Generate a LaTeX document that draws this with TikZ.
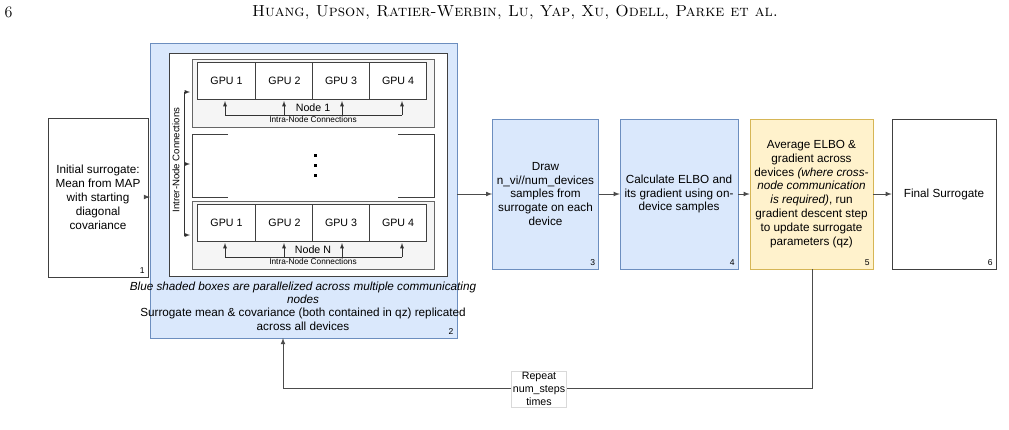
\documentclass[tikz,border=0pt]{standalone}
\usepackage{fontspec}
\setsansfont{Liberation Sans}
\usetikzlibrary{positioning}
\definecolor{blueFill}{HTML}{DAE8FC}
\definecolor{blueLine}{HTML}{6C8EBF}
\definecolor{yellowFill}{HTML}{FFF2CC}
\definecolor{yellowLine}{HTML}{D6B656}
\definecolor{grayFill}{HTML}{F5F5F5}
\tikzset{
    stepbox/.style={draw=black!75,fill=white,minimum width=100*0.75pt,align=center,
        font=\sffamily\fontsize{8.8}{10.4}\selectfont},
    bluestep/.style={stepbox,draw=blueLine,fill=blueFill},
    gpu/.style={draw=black!75,fill=white,minimum width=57.5*0.75pt,minimum height=37*0.75pt,
        inner sep=0pt,font=\sffamily\fontsize{8}{9.5}\selectfont},
    tiny/.style={font=\sffamily\fontsize{6.2}{7}\selectfont,inner sep=0.5pt},
    num/.style={font=\sffamily\fontsize{6.4}{7}\selectfont,anchor=south east,inner sep=2.5pt},
    flow/.style={draw=black!70,->,>=latex,line width=0.6pt},
}
\begin{document}
\begin{tikzpicture}[x=0.75pt,y=-0.75pt]
    \useasboundingbox (0,0) rectangle (1009,429);

    % page header
    \node[anchor=west,font=\fontsize{12}{14}\selectfont] (pg) at (0,12) {6};
    \node[font=\fontsize{12}{14}\selectfont\scshape] (hdr) at (515,12)
        {Huang, Upson, Ratier-Werbin, Lu, Yap, Xu, Odell, Parke et al.};

    % blue outer box 2
    \draw[draw=blueLine,fill=blueFill] (150,43) rectangle (457,338);
    \coordinate (b2w) at (150,197);
    \coordinate (b2s) at (283,338);
    \node[num] at (457,338) {2};
    \draw[draw=black!75,fill=white] (169,53) rectangle (447,276);

    % the two GPU nodes
    \foreach \name/\top/\lbl in {a/59/Node 1, n/201/Node N} {
        \draw[draw=black!60,fill=grayFill] (192,\top) rectangle (434,\top+68);
        \foreach \i/\cx in {1/226.5,2/284.5,3/341,4/398} {
            \node[gpu] (\name\i) at (\cx,\top+22) {GPU \i};
        }
        \node[tiny,font=\sffamily\fontsize{8}{9.5}\selectfont,fill=grayFill] (\name lab) at (313,\top+49) {\lbl};
        \node[tiny,fill=grayFill] (\name con) at (313,\top+60.5) {Intra-Node Connections};
        \draw[black!80] (225,\top+56) -- (402,\top+56);
        \foreach \i/\cx in {1/225,2/284,3/342,4/402} {
            \draw[->,>=latex,black!80] (\cx,\top+56) -- (\cx,\top+42);
        }
    }

    % middle placeholder
    \draw[black!75] (228,134) -- (192,134) -- (192,197) -- (228,197);
    \draw[black!75] (398,134) -- (434,134) -- (434,197) -- (398,197);
    \foreach \y in {155,165,175} {
        \fill (313.5,\y-1.5) rectangle (316.5,\y+1.5);
    }

    % inter-node connections
    \draw[black!80] (184,92) -- (184,235);
    \foreach \y in {92,164,235} {
        \draw[->,>=latex,black!80] (184,\y) -- (190,\y);
    }
    \node[tiny,font=\sffamily\fontsize{7.2}{8}\selectfont,rotate=90,fill=white] (inter) at (176,160) {Intrer-Node Connections};

    \node[font=\sffamily\fontsize{8.8}{10}\selectfont,align=center] (note) at (303,306)
        {\itshape Blue shaded boxes are parallelized across multiple communicating\\ \itshape nodes\\
         Surrogate mean \& covariance (both contained in qz) replicated\\ across all devices};

    % process steps
    \node[stepbox,minimum height=159*0.75pt] (s1) at (98,197.5)
        {Initial surrogate:\\Mean from MAP\\with starting\\diagonal\\covariance};
    \node[bluestep,minimum width=105*0.75pt,minimum height=150*0.75pt] (s3) at (545.5,194)
        {Draw\\n\_vi//num\_devices\\samples from\\surrogate on each\\device};
    \node[bluestep,minimum width=104*0.75pt,minimum height=150*0.75pt] (s4) at (679,194)
        {Calculate ELBO and\\its gradient using on-\\device samples};
    \node[stepbox,draw=yellowLine,fill=yellowFill,minimum width=103*0.75pt,minimum height=150*0.75pt] (s5) at (811.5,194)
        {Average ELBO \&\\gradient across\\devices \textit{(where cross-}\\\textit{node communication}\\\textit{is required)}, run\\gradient descent step\\to update surrogate\\parameters (qz)};
    \node[stepbox,minimum width=104*0.75pt,minimum height=150*0.75pt] (s6) at (944,194) {Final Surrogate};
    \foreach \s/\n in {s1/1,s3/3,s4/4,s5/5,s6/6} {
        \node[num] at (\s.south east) {\n};
    }

    % connectors
    \draw[flow] (s1.east |- b2w) -- (b2w);
    \draw[flow] (457,194) -- (s3.west);
    \draw[flow] (s3) -- (s4);
    \draw[flow] (s4) -- (s5);
    \draw[flow] (s5) -- (s6);
    \coordinate (turn1) at (812,388);
    \coordinate (turn2) at (283,388);
    \draw[flow] (s5.south -| turn1) -- (turn1) -- (turn2) -- (b2s);
    \node[draw=black!15,fill=white,align=center,inner sep=1pt,
        font=\sffamily\fontsize{8}{9.6}\selectfont] (rep) at (539,389) {Repeat\\num\_steps\\times};
\end{tikzpicture}
\end{document}
